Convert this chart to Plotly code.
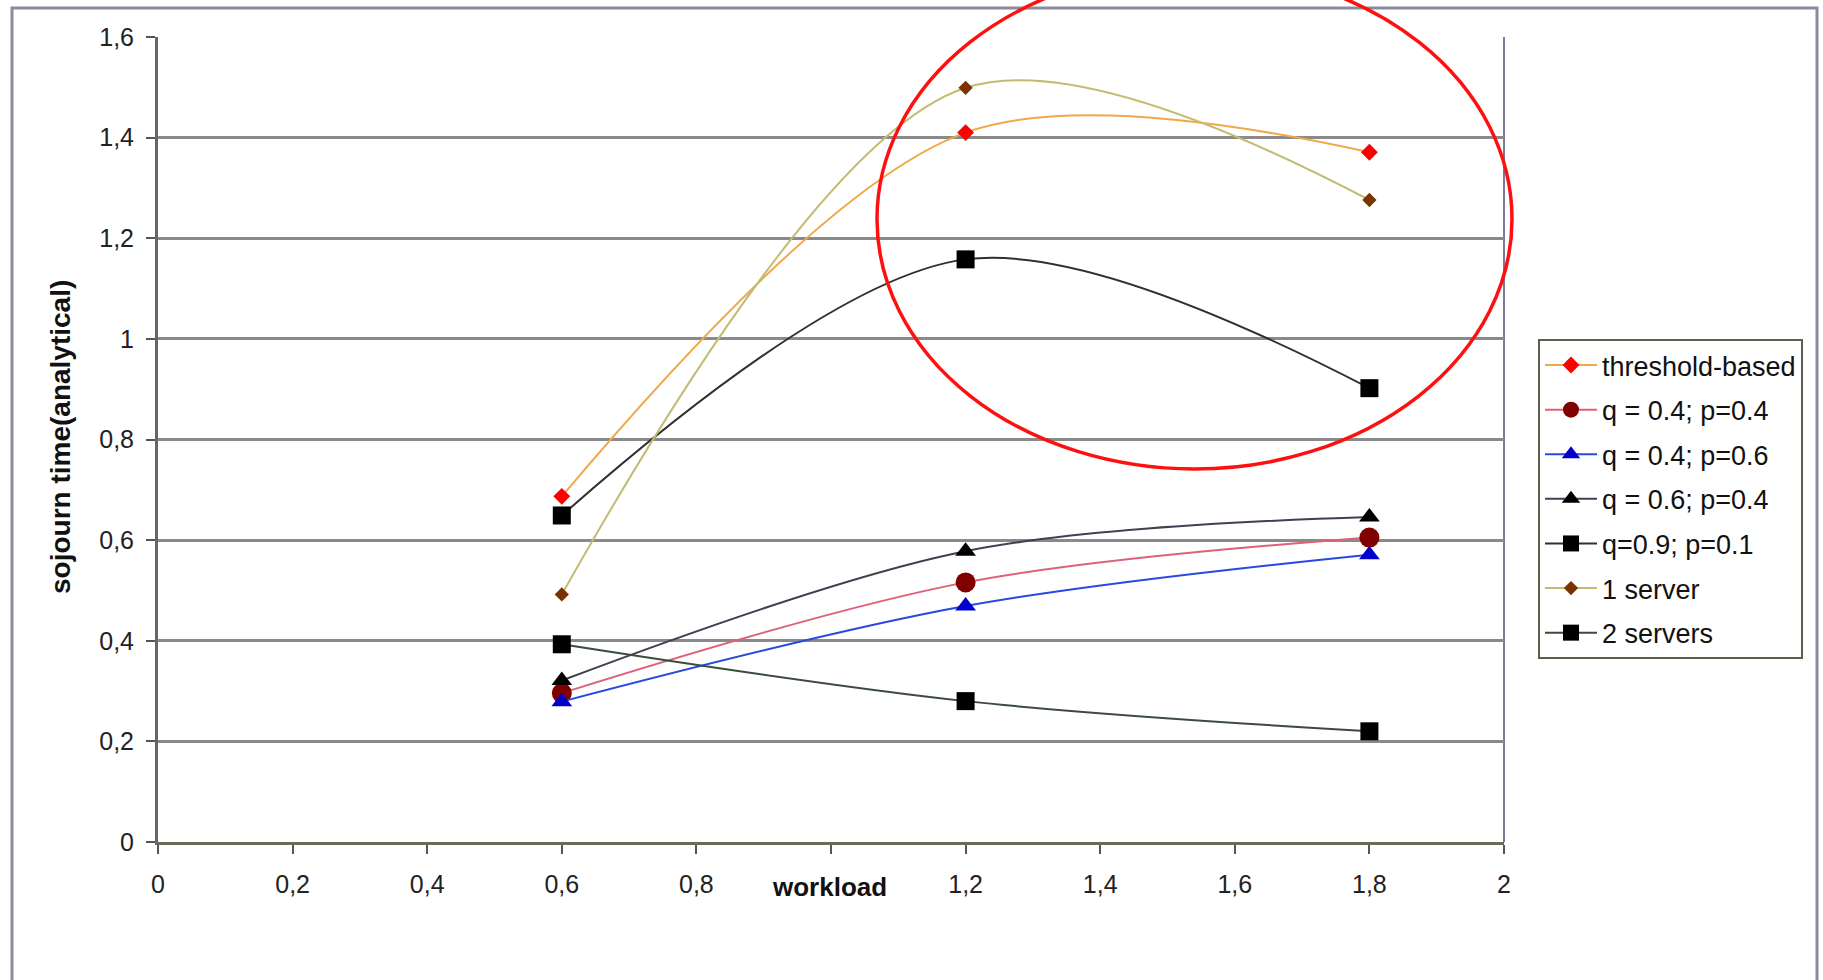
import plotly.graph_objects as go

# ---------------- data ----------------
workload = [0.6, 1.2, 1.8]
threshold_based = [0.687, 1.410, 1.371]
q04_p04 = [0.296, 0.516, 0.605]
q04_p06 = [0.279, 0.469, 0.571]
q06_p04 = [0.321, 0.578, 0.646]
q09_p01 = [0.649, 1.158, 0.902]
one_server = [0.492, 1.499, 1.276]
two_servers = [0.393, 0.280, 0.220]

x_tick_vals = [0, 0.2, 0.4, 0.6, 0.8, 1.0, 1.2, 1.4, 1.6, 1.8, 2.0]
x_tick_text = ["0", "0,2", "0,4", "0,6", "0,8", "", "1,2", "1,4", "1,6", "1,8", "2"]
y_tick_vals = [0, 0.2, 0.4, 0.6, 0.8, 1.0, 1.2, 1.4, 1.6]
y_tick_text = ["0", "0,2", "0,4", "0,6", "0,8", "1", "1,2", "1,4", "1,6"]

# ---------------- layout geometry (pixels) ----------------
W, H = 1823, 980
PL, PR, PT, PB = 158, 1504, 37, 842  # plot area


def px(x):
    return (x - PL) / (PR - PL)


def py(y):
    return (PB - y) / (PB - PT)


FONT = "Liberation Sans, Arial, sans-serif"

series = [
    ("threshold-based", threshold_based, "#F0A848", "diamond", "#FF0000", 13),
    ("q = 0.4; p=0.4", q04_p04, "#E0607A", "circle", "#800000", 20),
    ("q = 0.4; p=0.6", q04_p06, "#2848E0", "triangle-up", "#0000CC", 18),
    ("q = 0.6; p=0.4", q06_p04, "#404050", "triangle-up", "#000000", 18),
    ("q=0.9; p=0.1", q09_p01, "#303030", "square", "#000000", 18),
    ("1 server", one_server, "#C2BC72", "diamond", "#7A3300", 11),
    ("2 servers", two_servers, "#3C4C3C", "square", "#000000", 18),
]

fig = go.Figure()
for i, (name, vals, lc, sym, mc, ms) in enumerate(series):
    fig.add_trace(go.Scatter(
        x=workload, y=vals, name=name, mode="lines+markers",
        line=dict(color=lc, width=2, shape="spline", smoothing=0.95),
        marker=dict(symbol=sym, color=mc, size=ms, line=dict(width=0)),
        legendgroup=f"g{i}",
    ))

# outer chart frame
fig.add_shape(type="rect", xref="paper", yref="paper",
              x0=px(12), x1=px(1817), y0=py(8), y1=py(1000),
              line=dict(color="#8A8AA0", width=3), layer="below")

# red ellipse highlight
fig.add_shape(type="circle", xref="paper", yref="paper",
              x0=px(877), x1=px(1512), y0=py(469), y1=py(-31),
              line=dict(color="#FF1010", width=3.5), layer="above")

# axis titles
fig.add_annotation(text="<b>workload</b>", xref="paper", yref="paper",
                   x=px(829), y=py(887), xanchor="center", yanchor="middle",
                   showarrow=False, font=dict(family=FONT, size=26, color="#111111"))
fig.add_annotation(text="<b>sojourn time(analytical)</b>", xref="paper", yref="paper",
                   x=px(60), y=py(437), xanchor="center", yanchor="middle",
                   textangle=-90, showarrow=False,
                   font=dict(family=FONT, size=28, color="#111111"))

fig.update_layout(
    width=W, height=H,
    margin=dict(l=PL, r=W - PR, t=PT, b=H - PB, pad=0),
    paper_bgcolor="white", plot_bgcolor="white",
    font=dict(family=FONT, size=25, color="#222222"),
    showlegend=True,
    legend=dict(
        x=px(1538), y=py(339), xanchor="left", yanchor="top",
        bgcolor="white", bordercolor="#5E5E4E", borderwidth=2,
        font=dict(family=FONT, size=27, color="#111111"),
        tracegroupgap=6.5, traceorder="grouped", itemwidth=52,
    ),
    xaxis=dict(
        range=[0, 2], tickvals=x_tick_vals, ticktext=x_tick_text,
        showgrid=False, zeroline=False,
        showline=True, linecolor="#6A6A55", linewidth=3, mirror=False,
        ticks="outside", ticklen=9, tickwidth=2, tickcolor="#555555",
        ticklabelstandoff=9,
        tickfont=dict(family=FONT, size=25, color="#222222"),
    ),
    yaxis=dict(
        range=[0, 1.6], tickvals=y_tick_vals, ticktext=y_tick_text,
        showgrid=True, gridcolor="#8A8A8A", gridwidth=2.5,
        zeroline=False,
        showline=True, linecolor="#666666", linewidth=3,
        ticks="outside", ticklen=9, tickwidth=2, tickcolor="#555555",
        ticklabelstandoff=7,
        tickfont=dict(family=FONT, size=25, color="#222222"),
    ),
)

# right border of plot area
fig.add_shape(type="line", xref="paper", yref="paper",
              x0=1, x1=1, y0=0, y1=1,
              line=dict(color="#7A7A9A", width=2), layer="below")

fig.write_html("out.html")
